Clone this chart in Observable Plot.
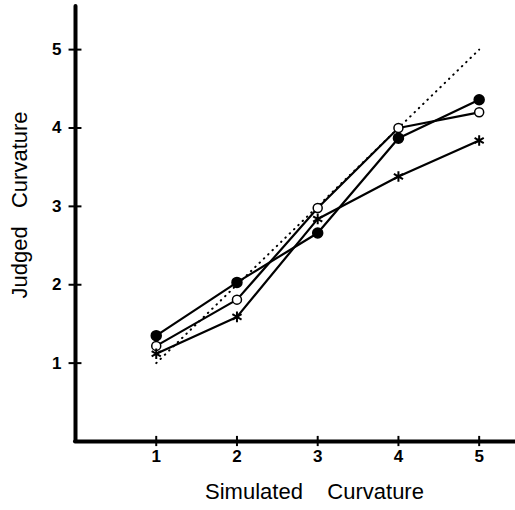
<!DOCTYPE html>
<html>
<head>
<meta charset="utf-8">
<script src="https://cdn.jsdelivr.net/npm/d3@7"></script>
<script src="https://cdn.jsdelivr.net/npm/@observablehq/plot@0.6"></script>
<style>
  html, body { margin: 0; padding: 0; background: #fff; }
</style>
</head>
<body>
<div id="chart"></div>
<script>
const simulated = [1, 2, 3, 4, 5];
const filledCircle = [1.35, 2.03, 2.66, 3.87, 4.36];
const openCircle = [1.22, 1.81, 2.98, 4.0, 4.2];
const asterisk = [1.12, 1.59, 2.84, 3.38, 3.84];
const identity = [1, 5];
const xTicks = [1, 2, 3, 4, 5];
const yTicks = [1, 2, 3, 4, 5];
const xLabel = "Simulated\u00a0\u00a0\u00a0\u00a0Curvature";
const yLabel = "Judged\u00a0\u00a0\u00a0Curvature";

const toRows = vals => simulated.map((x, i) => ({x, y: vals[i]}));
const fRows = toRows(filledCircle);
const oRows = toRows(openCircle);
const aRows = toRows(asterisk);
const idRows = identity.map(v => ({x: v, y: v}));

const font = "'Liberation Sans', Arial, Helvetica, sans-serif";

const chart = Plot.plot({
  width: 515,
  height: 510,
  marginLeft: 75,
  marginRight: 0,
  marginTop: 6,
  marginBottom: 69,
  style: {fontFamily: font, background: "#fff", color: "#000"},
  x: {domain: [0, 5.45], axis: null},
  y: {domain: [0, 5.55], axis: null},
  marks: [
    // axes lines
    Plot.ruleX([0], {y1: 0, y2: 5.55, stroke: "#000", strokeWidth: 4, strokeLinecap: "round"}),
    Plot.ruleY([0], {x1: 0, x2: 5.45, stroke: "#000", strokeWidth: 4, strokeLinecap: "round"}),
    // crossing ticks
    Plot.ruleX(xTicks, {x: d => d, y1: -0.065, y2: 0.065, stroke: "#000", strokeWidth: 2}),
    Plot.ruleY(yTicks, {y: d => d, x1: -0.08, x2: 0.08, stroke: "#000", strokeWidth: 2}),
    // tick labels
    Plot.text(xTicks, {x: d => d, frameAnchor: "bottom", dy: 20, text: d => String(d), fontSize: 17, fontWeight: 900, fill: "#000"}),
    Plot.text(yTicks, {y: d => d, frameAnchor: "left", dx: -14, textAnchor: "end", text: d => String(d), fontSize: 17, fontWeight: 900, fill: "#000"}),
    // identity dotted line
    Plot.line(idRows, {x: "x", y: "y", stroke: "#000", strokeWidth: 2, strokeDasharray: "0.5,5.5", strokeLinecap: "round"}),
    // series lines
    Plot.line(fRows, {x: "x", y: "y", stroke: "#000", strokeWidth: 2.2}),
    Plot.line(oRows, {x: "x", y: "y", stroke: "#000", strokeWidth: 2.2}),
    Plot.line(aRows, {x: "x", y: "y", stroke: "#000", strokeWidth: 2.2}),
    // markers
    Plot.dot(fRows, {x: "x", y: "y", r: 5, fill: "#000", stroke: "#000"}),
    Plot.dot(oRows, {x: "x", y: "y", r: 4.5, fill: "#fff", stroke: "#000", strokeWidth: 1.5}),
    Plot.dot(aRows, {x: "x", y: "y", r: 5, symbol: "asterisk", stroke: "#000", strokeWidth: 2}),
    // axis titles
    Plot.text([xLabel], {frameAnchor: "bottom", dx: 19, dy: 57, fontSize: 22, letterSpacing: 1, fill: "#000", text: d => d}),
    Plot.text([yLabel], {frameAnchor: "left", textAnchor: "middle", dx: -56, dy: -19, rotate: -90, fontSize: 22, letterSpacing: 1, fill: "#000", text: d => d})
  ]
});
document.getElementById("chart").appendChild(chart);
</script>
</body>
</html>
